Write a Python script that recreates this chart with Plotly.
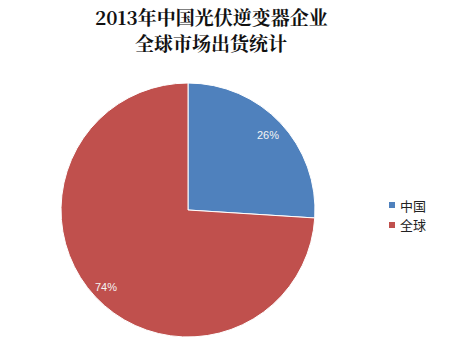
import math
import plotly.graph_objects as go

labels = ["中国", "全球"]
values = [26, 74]
colors = ["#4F81BD", "#C0504D"]
title_lines = ["2013年中国光伏逆变器企业", "全球市场出货统计"]
label_radius = [0.86, 0.89]

W, H = 450, 351
x0, x1, yt, yb = 61, 315, 83, 337
fig = go.Figure(go.Pie(
    labels=labels, values=values, sort=False, direction="clockwise", rotation=0,
    marker=dict(colors=colors, line=dict(color="white", width=1)),
    textinfo="none",
    domain=dict(x=[x0/W, x1/W], y=[(H-yb)/H, (H-yt)/H]),
    hoverinfo="label+percent",
    showlegend=False,
))

# percent labels placed along slice mid-angles
cx, cy = (x0+x1)/2/W, (H-(yt+yb)/2)/H
rx, ry = (x1-x0)/2/W, (yb-yt)/2/H
total = sum(values)
ann = []
shapes = []
cum = 0
for v, rf in zip(values, label_radius):
    mid = (cum + v/2)/total*2*math.pi
    cum += v
    ann.append(dict(text=f"{round(v/total*100)}%", x=cx+rf*rx*math.sin(mid), y=cy+rf*ry*math.cos(mid),
                    xref="paper", yref="paper", showarrow=False, xanchor="center", yanchor="middle",
                    font=dict(color="#f4f4f4", size=11, family="Liberation Sans")))

for t, yy in zip(title_lines, [17, 43]):
    ann.append(dict(text=f"<b>{t}</b>", x=211/W, y=(H-yy)/H, xref="paper", yref="paper",
                    xanchor="center", yanchor="middle", showarrow=False,
                    font=dict(size=19, family="Noto Serif CJK SC, Liberation Serif, Noto Sans CJK SC", color="#111")))

# legend
for i, (lab, col) in enumerate(zip(labels, colors)):
    ly = 205 + 20*i
    shapes.append(dict(type="rect", xref="paper", yref="paper",
                       x0=389/W, x1=395/W, y0=(H-ly-3)/H, y1=(H-ly+3)/H,
                       fillcolor=col, line=dict(width=0)))
    ann.append(dict(text=lab, x=398/W, y=(H-ly)/H, xref="paper", yref="paper",
                    xanchor="left", yanchor="middle", showarrow=False,
                    font=dict(size=13, family="Noto Sans CJK SC", color="#222")))

fig.update_layout(
    width=W, height=H, margin=dict(l=0, r=0, t=0, b=0),
    paper_bgcolor="white", plot_bgcolor="white",
    annotations=ann, shapes=shapes,
)
fig.write_html("out.html")
